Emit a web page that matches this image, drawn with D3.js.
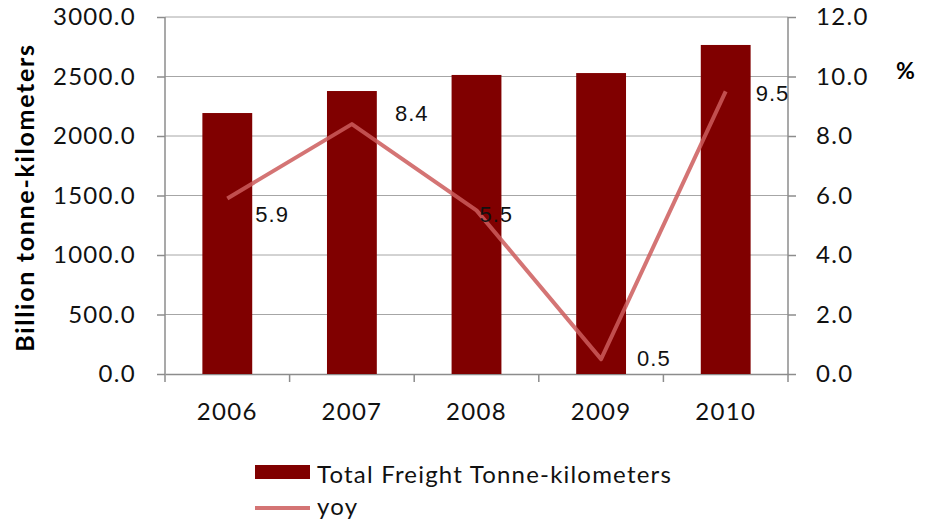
<!DOCTYPE html>
<html>
<head>
<meta charset="utf-8">
<script src="https://cdn.jsdelivr.net/npm/d3@7"></script>
<style>
  body { margin: 0; background: #fff; }
  svg { display: block; }
  .tick text { font-family: Lato, "Open Sans", sans-serif; }
</style>
</head>
<body>
<div id="chart"></div>
<script>
// chart data
const years = ["2006", "2007", "2008", "2009", "2010"];
const freight = [2193, 2378, 2513, 2529, 2765];
const yoy = [5.9, 8.4, 5.5, 0.5, 9.5];
const leftTicks = [0, 500, 1000, 1500, 2000, 2500, 3000];
const rightTicks = [0, 2, 4, 6, 8, 10, 12];

const width = 925, height = 522;
const margin = { top: 17, right: 137, bottom: 148, left: 165 };
const plotW = width - margin.left - margin.right;
const plotH = height - margin.top - margin.bottom;

const svg = d3.select("#chart").append("svg")
  .attr("width", width)
  .attr("height", height);

const g = svg.append("g").attr("transform", `translate(${margin.left},${margin.top})`);

const x = d3.scaleBand().domain(years).range([0, plotW]).paddingInner(0.6).paddingOuter(0.3);
const xTicks = d3.scaleBand().domain(years).range([0, plotW]);
const yL = d3.scaleLinear().domain([0, 3000]).range([plotH, 0]);
const yR = d3.scaleLinear().domain([0, 12]).range([plotH, 0]);

const axisColor = "#8c8c8c";
const tickFont = 24, tickSpacing = 1.3;

// gridlines
g.append("g").selectAll("line").data(leftTicks.slice(1))
  .join("line")
  .attr("x1", 0).attr("x2", plotW)
  .attr("y1", d => yL(d)).attr("y2", d => yL(d))
  .attr("stroke", "#a6a6a6").attr("stroke-width", 1);

// left axis
const axL = g.append("g")
  .call(d3.axisLeft(yL).tickValues(leftTicks).tickFormat(d3.format(".1f")).tickSize(8).tickPadding(21));
axL.selectAll("text").attr("font-size", tickFont).attr("letter-spacing", tickSpacing).attr("fill", "#111");

// right axis
const axR = g.append("g").attr("transform", `translate(${plotW},0)`)
  .call(d3.axisRight(yR).tickValues(rightTicks).tickFormat(d3.format(".1f")).tickSize(8).tickPadding(20));
axR.selectAll("text").attr("font-size", tickFont).attr("letter-spacing", tickSpacing).attr("fill", "#111");

// bottom axis with ticks at band boundaries
const axB = g.append("g").attr("transform", `translate(0,${plotH})`)
  .call(d3.axisBottom(x).tickSize(0).tickPadding(29));
axB.selectAll("text").attr("font-size", tickFont).attr("letter-spacing", tickSpacing).attr("fill", "#111");
axB.selectAll(".tick line").remove();
axB.append("g").selectAll("line")
  .data(years.map(d => xTicks(d)).concat([plotW]))
  .join("line")
  .attr("x1", d => d).attr("x2", d => d)
  .attr("y1", 0).attr("y2", 8);

[axL, axR, axB].forEach(a => {
  a.selectAll("path.domain").attr("stroke", axisColor).attr("stroke-width", 1.5);
  a.selectAll("line").attr("stroke", axisColor).attr("stroke-width", 1.5);
});
axL.select("path.domain").attr("d", `M0,${plotH}V0`);
axR.select("path.domain").attr("d", `M0,${plotH}V0`);

// bars
g.append("g").selectAll("rect").data(years)
  .join("rect")
  .attr("x", d => x(d))
  .attr("width", x.bandwidth())
  .attr("y", (d, i) => yL(freight[i]))
  .attr("height", (d, i) => plotH - yL(freight[i]))
  .attr("fill", "#800000");

// yoy line
const line = d3.line()
  .x((d, i) => x(years[i]) + x.bandwidth() / 2)
  .y(d => yR(d));

g.append("path")
  .datum(yoy)
  .attr("d", line)
  .attr("fill", "none")
  .attr("stroke", "#cd5c5c")
  .attr("stroke-opacity", 0.85)
  .attr("stroke-width", 4)
  .attr("stroke-linejoin", "round");

// data labels, offset from each point
const labelOffsets = [[28, 24], [43, -3], [3, 12], [36, 7], [30, 10]];
g.append("g").selectAll("text").data(yoy)
  .join("text")
  .attr("x", (d, i) => x(years[i]) + x.bandwidth() / 2 + labelOffsets[i][0])
  .attr("y", (d, i) => yR(d) + labelOffsets[i][1])
  .attr("font-family", "'Liberation Sans', Arial, sans-serif")
  .attr("font-size", 22)
  .attr("letter-spacing", 1)
  .attr("fill", "#111")
  .text(d => d3.format(".1f")(d));

// axis titles
svg.append("text")
  .attr("transform", `translate(34,${margin.top + plotH / 2 + 2}) rotate(-90)`)
  .attr("text-anchor", "middle")
  .attr("font-family", "Lato, sans-serif")
  .attr("font-weight", "bold")
  .attr("font-size", 25)
  .attr("letter-spacing", 1.7)
  .attr("fill", "#000")
  .text("Billion tonne-kilometers");

svg.append("text")
  .attr("x", 896).attr("y", 79)
  .attr("font-family", "Lato, sans-serif")
  .attr("font-weight", "bold")
  .attr("font-size", 23)
  .text("%");

// legend
const lg = svg.append("g").attr("transform", "translate(255,465)");
lg.append("rect").attr("x", 0).attr("y", 0).attr("width", 55).attr("height", 14).attr("fill", "#800000");
lg.append("text").attr("x", 62).attr("y", 18)
  .attr("font-family", "Lato, sans-serif").attr("font-size", 24).attr("letter-spacing", 1.2).attr("fill", "#111")
  .text("Total Freight Tonne-kilometers");
lg.append("line").attr("x1", 0).attr("x2", 55).attr("y1", 43).attr("y2", 43)
  .attr("stroke", "#cd5c5c").attr("stroke-opacity", 0.85).attr("stroke-width", 4);
lg.append("text").attr("x", 62).attr("y", 50)
  .attr("font-family", "Lato, sans-serif").attr("font-size", 24).attr("letter-spacing", 1.2).attr("fill", "#111")
  .text("yoy");
</script>
</body>
</html>
